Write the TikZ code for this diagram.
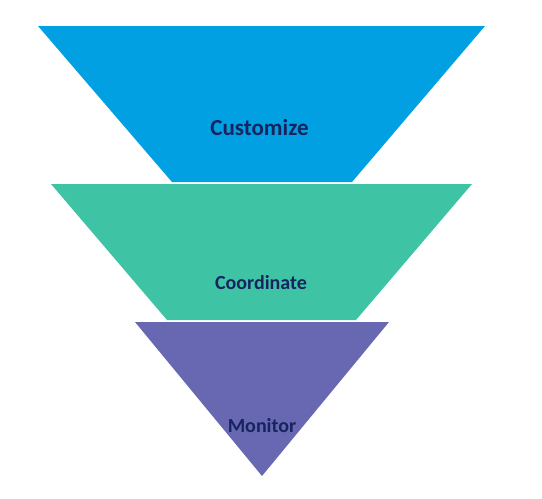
\documentclass[tikz,border=0pt]{standalone}
\usepackage{fontspec}
\setmainfont{Carlito}
\definecolor{cblue}{RGB}{0,160,227}
\definecolor{cgreen}{RGB}{62,196,164}
\definecolor{cpurple}{RGB}{104,103,177}
\definecolor{ctext}{RGB}{22,36,96}
\begin{document}
\begin{tikzpicture}[x=1pt,y=-1pt,
  lbl/.style={text=ctext,font=\bfseries,inner sep=0pt,anchor=base}]
\useasboundingbox (0,0) rectangle (542,499);
\fill[white] (0,0) rectangle (542,499);
\fill[cblue] (38,26) -- (485,26) -- (352,182) -- (172,182) -- cycle;
\fill[cgreen] (51,184) -- (472,184) -- (356,320) -- (167,320) -- cycle;
\fill[cpurple] (135,322) -- (389,322) -- (262,476) -- cycle;
\node[lbl,font=\bfseries\fontsize{23}{27}\selectfont] (customize) at (259.5,135) {Customize};
\node[lbl,font=\bfseries\fontsize{20}{24}\selectfont] (coordinate) at (261,289.5) {Coordinate};
\node[lbl,font=\bfseries\fontsize{20}{24}\selectfont] (monitor) at (262,432.5) {Monitor};
\end{tikzpicture}
\end{document}
